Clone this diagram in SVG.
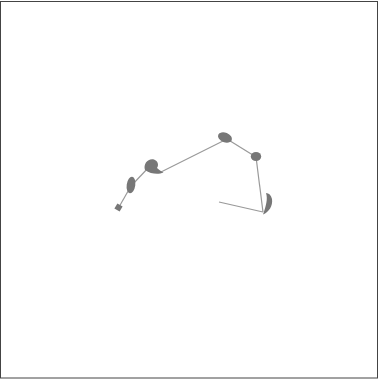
<svg xmlns="http://www.w3.org/2000/svg" width="383" height="381" viewBox="0 0 383 381">
<style>
.frame{fill:#fff;stroke:#444;stroke-width:1}
.edge{stroke:#999;stroke-width:1.2;fill:none}
.shape{fill:#777;stroke:none}
</style>
<rect class="frame" x="0.5" y="1.5" width="377" height="376.5"/>
<g id="connectors">
<line class="edge" x1="119" y1="207" x2="131" y2="186"/>
<line class="edge" x1="131" y1="186" x2="150" y2="166"/>
<line class="edge" x1="161" y1="172" x2="227" y2="139"/>
<line class="edge" x1="227" y1="139" x2="256" y2="157"/>
<line class="edge" x1="256" y1="157" x2="263" y2="212"/>
<line class="edge" x1="219" y1="202" x2="263" y2="212"/>
</g>
<g id="n1"><rect class="shape" x="115.5" y="204.5" width="6" height="6" transform="rotate(30 118.5 207.5)"/></g>
<g id="n2"><ellipse class="shape" cx="131" cy="185" rx="4.3" ry="8.3" transform="rotate(8 131 185)"/></g>
<g id="n3"><path class="shape" d="M145,170 C143,164 148,158 154,159.5 C158,161 159,165 157,168 C159,170 161,171 163.5,172.5 C158,175 151,174 145,170 Z"/></g>
<g id="n4"><ellipse class="shape" cx="225" cy="137.5" rx="7.3" ry="4.8" transform="rotate(22 225 137.5)"/></g>
<g id="n5"><ellipse class="shape" cx="256" cy="156.5" rx="5.2" ry="4.5"/></g>
<g id="n6"><path class="shape" d="M263,214.5 C269,212 273,206 272,199 C271,195 269,193 266,193 C268,199 266,206 263,214.5 Z"/></g>
</svg>
